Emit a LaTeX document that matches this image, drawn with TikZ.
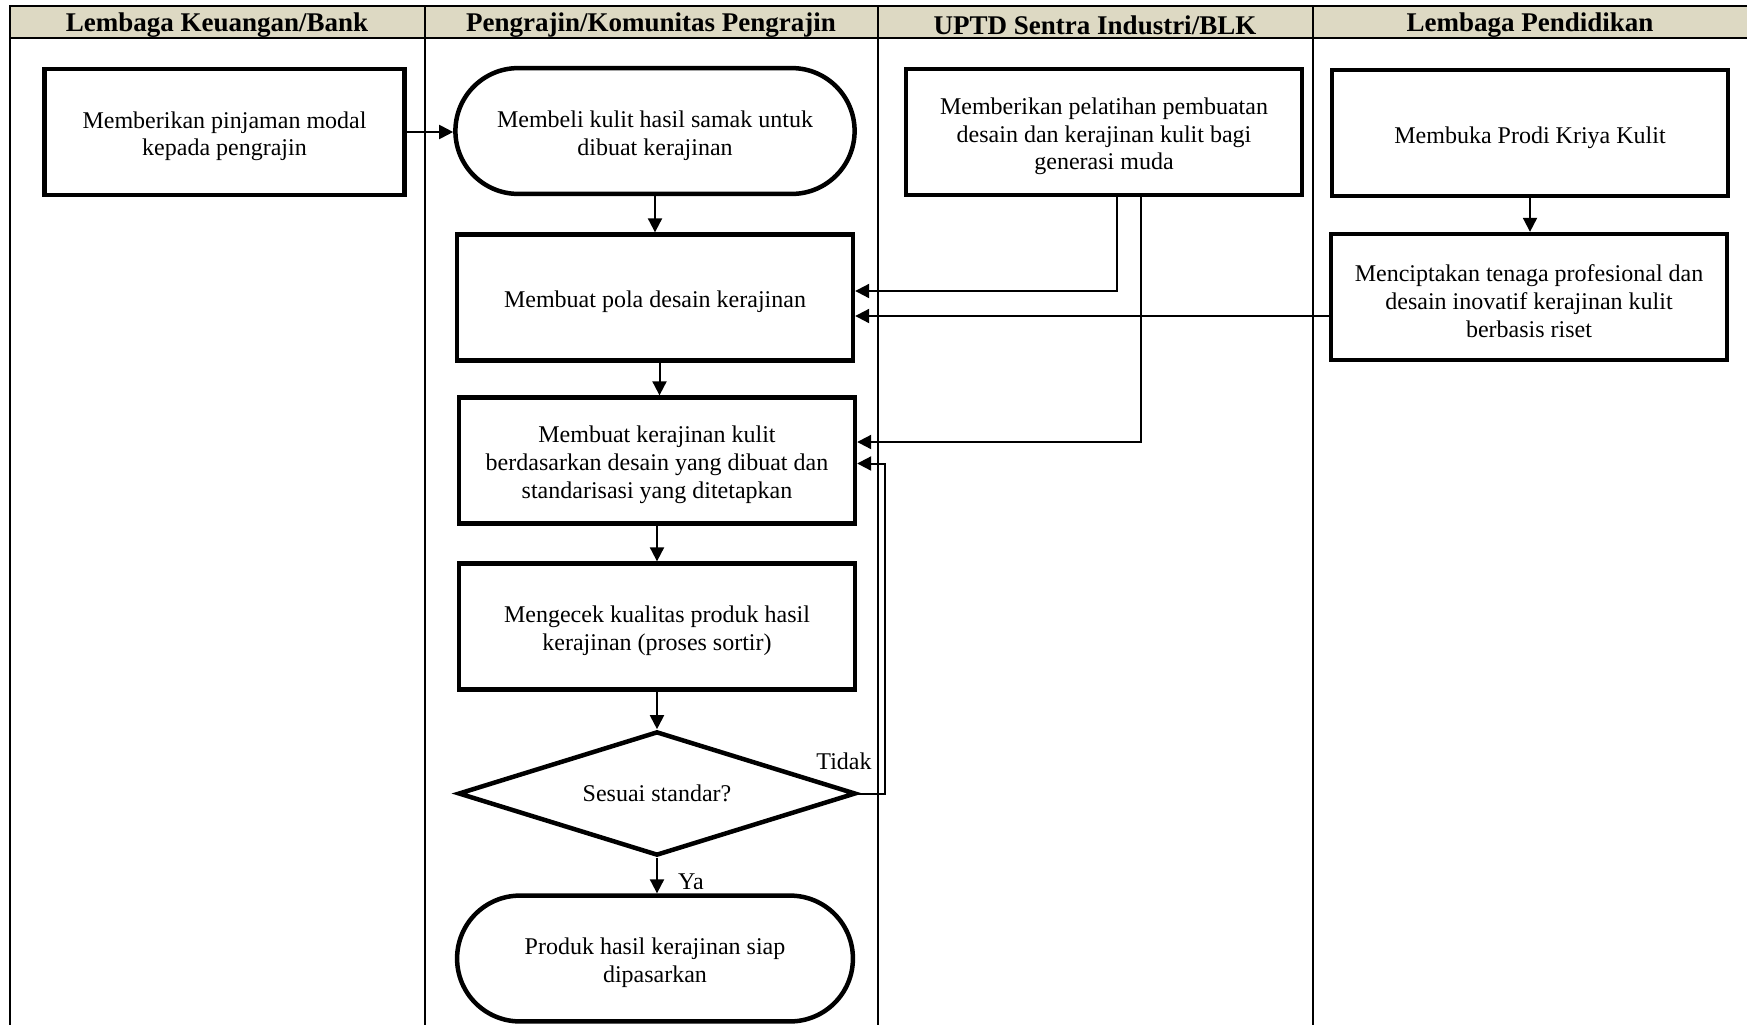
\documentclass[tikz,border=0pt]{standalone}
\usepackage{fontspec}
\setmainfont{Liberation Serif}
\usetikzlibrary{arrows.meta,shapes.geometric}
\definecolor{headtan}{RGB}{221,217,195}
% taller first line so the text sits a little lower in its box
\newcommand{\firstln}{\rule{0pt}{15.2pt}}
\begin{document}
\begin{tikzpicture}[x=0.6pt,y=-0.6pt,
  txt/.style={font=\fontsize{14.4}{16.7}\selectfont, align=center},
  head/.style={font=\bfseries\fontsize{16.2}{18}\selectfont, inner sep=0pt},
  box/.style={txt, draw, line width=2.7pt, minimum width=237.5pt, minimum height=75.5pt, inner sep=2pt},
  term/.style={box, rounded corners=37.7pt},
  decide/.style={txt, draw, diamond, aspect=3.2, line width=2.7pt, minimum width=238.5pt, minimum height=74.5pt, inner sep=0pt},
  arr/.style={line width=1.2pt, -{Triangle[length=8.4pt,width=8.4pt]}},
  grid/.style={line width=1.2pt},
  lbl/.style={txt, inner sep=0pt}
]
\useasboundingbox (0,0) rectangle (1747,1025);
\fill[white] (0,0) rectangle (1747,1025);

% swimlane table
\fill[headtan] (10,6) rectangle (1747,38);
\draw[grid] (1747,6) -- (10,6) -- (10,1025);
\draw[grid] (10,38) -- (1747,38);
\foreach \x in {424.5,878,1312.5} \draw[grid] (\x,6) -- (\x,1025);

\node[head] (h1) at (217,25) {Lembaga Keuangan/Bank};
\node[head] (h2) at (651,25) {Pengrajin/Komunitas Pengrajin};
\node[head] (h3) at (1095,25) {UPTD Sentra Industri/BLK};
\node[head] (h4) at (1530,25) {Lembaga Pendidikan};

% process steps
\node[box, minimum width=216pt] (bank) at (224.5,132) {\firstln Memberikan pinjaman modal\\kepada pengrajin};
\node[term, minimum width=239.5pt] (buy) at (655,131) {\firstln Membeli kulit hasil samak untuk\\dibuat kerajinan};
\node[box] (pola) at (655,297.5) {\firstln Membuat pola desain kerajinan};
\node[box] (craft) at (657,460.5) {\firstln Membuat kerajinan kulit\\berdasarkan desain yang dibuat dan\\standarisasi yang ditetapkan};
\node[box] (check) at (657,626.5) {\firstln Mengecek kualitas produk hasil\\kerajinan (proses sortir)};
\node[decide] (dec) at (657,793.5) {Sesuai standar?};
\node[term] (done) at (655,958.5) {\firstln Produk hasil kerajinan siap\\dipasarkan};
\node[box] (uptd) at (1104,132) {\firstln Memberikan pelatihan pembuatan\\desain dan kerajinan kulit bagi\\generasi muda};
\node[box] (prodi) at (1530,133) {\firstln Membuka Prodi Kriya Kulit};
\node[box] (riset) at (1529,297) {\firstln Menciptakan tenaga profesional dan\\desain inovatif kerajinan kulit\\berbasis riset};

% connectors
\draw[arr] (bank.east) -- (bank.east -| buy.west);
\draw[arr] (buy.south) -- (buy.south |- pola.north);
\draw[arr] ([xshift=2.7pt]pola.south) -- ([xshift=2.7pt]pola.south |- craft.north);
\draw[arr] (craft.south) -- (craft.south |- check.north);
\draw[arr] (check.south) -- (dec.north);
\draw[arr] (dec.south) -- (dec.south |- done.north);
\draw[arr] (prodi.south) -- (prodi.south |- riset.north);
\draw[arr] ([xshift=7.5pt]uptd.south) |- ([yshift=3.9pt]pola.east);
\draw[arr] ([xshift=22.2pt]uptd.south) |- ([yshift=11.1pt]craft.east);
\draw[arr] ([yshift=-11.4pt]riset.west) -- ([yshift=-11.4pt]riset.west -| pola.east);
\draw[arr] (dec.east) -- ++(26.5,0) |- ([yshift=-1.8pt]craft.east);

\node[lbl] (tidak) at ([xshift=-8.4pt,yshift=19.2pt]dec.east) {Tidak};
\node[lbl] (ya) at ([xshift=20.4pt,yshift=-14.4pt]dec.south) {Ya};
\end{tikzpicture}
\end{document}
